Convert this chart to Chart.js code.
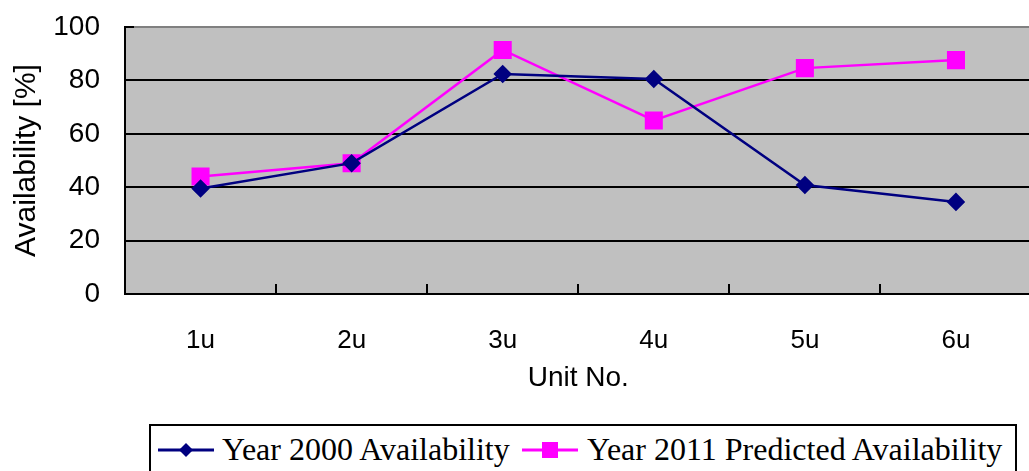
<!DOCTYPE html>
<html>
<head>
<meta charset="utf-8">
<script src="https://cdn.jsdelivr.net/npm/chart.js@4"></script>
<style>
  html, body { margin: 0; padding: 0; background: #fff; overflow: hidden; }
  #wrap { position: relative; width: 1045px; height: 471px; }
  #box { position: absolute; left: 0; top: 0; width: 1045px; height: 420px; }
  #legend { position: absolute; left: 149px; top: 424px; width: 864px; height: 60px;
            border: 2px solid #000; font-family: "Liberation Serif", serif; font-size: 32px; }
  .item { position: absolute; top: 8px; line-height: 31px; white-space: nowrap; }
  .sym { position: absolute; top: 15px; }
  .sym svg { display: block; }
</style>
</head>
<body>
<div id="wrap">
  <div id="box"><canvas id="chart"></canvas></div>
  <div id="legend"></div>
</div>
<script>
// datos
const units = ['1u', '2u', '3u', '4u', '5u', '6u'];
const avail2000 = [39.5, 49, 82.4, 80.5, 40.8, 34.5];
const avail2011 = [44, 49, 91.4, 65, 84.6, 87.6];
const yTicks = [0, 20, 40, 60, 80, 100];

const seriesNames = ['Year 2000 Availability', 'Year 2011 Predicted Availability'];
const navy = '#000080';
const magenta = '#FF00FF';

// fondo gris y marcas hacia dentro
const plotDeco = {
    id: 'plotDeco',
    beforeDraw(chart) {
        const a = chart.chartArea;
        const ctx = chart.ctx;
        ctx.save();
        ctx.fillStyle = '#C0C0C0';
        ctx.fillRect(a.left, a.top, a.right - a.left, a.bottom - a.top);
        ctx.restore();
    },
    beforeDatasetsDraw(chart) {
        const a = chart.chartArea;
        const ctx = chart.ctx;
        const x = chart.scales.x;
        const y = chart.scales.y;
        ctx.save();
        ctx.strokeStyle = '#000';
        ctx.lineWidth = 2;
        ctx.beginPath();
        for (let i = 0; i < units.length - 1; i++) {
            const px = Math.round((x.getPixelForValue(i) + x.getPixelForValue(i + 1)) / 2);
            ctx.moveTo(px, a.bottom);
            ctx.lineTo(px, a.bottom - 10);
        }
        yTicks.forEach(v => {
            const py = Math.round(y.getPixelForValue(v));
            ctx.moveTo(a.left, py);
            ctx.lineTo(a.left + 9, py);
        });
        ctx.stroke();
        ctx.restore();
    }
};

new Chart(document.getElementById('chart').getContext('2d'), {
    type: 'line',
    data: {
        labels: units,
        datasets: [{
            label: seriesNames[0],
            data: avail2000,
            borderColor: navy,
            backgroundColor: navy,
            borderWidth: 2.5,
            pointStyle: 'rectRot',
            pointRadius: 7.5,
            pointHoverRadius: 7.5,
            tension: 0
        }, {
            label: seriesNames[1],
            data: avail2011,
            borderColor: magenta,
            backgroundColor: magenta,
            borderWidth: 2.5,
            pointStyle: 'rect',
            pointRadius: 11,
            pointHoverRadius: 11,
            tension: 0
        }]
    },
    options: {
        responsive: true,
        maintainAspectRatio: false,
        animation: false,
        layout: { padding: { top: 27, left: 0, right: 0, bottom: 0 } },
        plugins: {
            legend: { display: false },
            tooltip: { enabled: false }
        },
        scales: {
            x: {
                offset: true,
                grid: { display: false, drawTicks: false, tickLength: 0 },
                border: { display: true, color: '#000', width: 2 },
                ticks: {
                    color: '#000',
                    padding: 31,
                    font: { family: 'Liberation Sans', size: 26 }
                },
                title: {
                    display: true,
                    text: 'Unit No.',
                    color: '#000',
                    padding: { top: 25, bottom: 25 },
                    font: { family: 'Liberation Sans', size: 28 }
                },
                afterFit(scale) {
                    scale.height = 126;
                    scale.paddingLeft = 0;
                    scale.paddingRight = 0;
                }
            },
            y: {
                min: 0,
                max: 100,
                afterBuildTicks(scale) { scale.ticks = yTicks.map(v => ({ value: v })); },
                grid: {
                    color: ctx => (ctx.tick && ctx.tick.value === 100) ? '#808080' : '#000',
                    lineWidth: 2,
                    drawTicks: false,
                    tickLength: 0
                },
                border: { display: true, color: '#000', width: 2 },
                ticks: {
                    color: '#000',
                    padding: 25,
                    font: { family: 'Liberation Sans', size: 28 }
                },
                title: {
                    display: true,
                    text: 'Availability [%]',
                    color: '#000',
                    padding: { top: 9, bottom: 0 },
                    font: { family: 'Liberation Sans', size: 30 }
                },
                afterFit(scale) {
                    scale.width = 125;
                    scale.paddingTop = 0;
                    scale.paddingBottom = 0;
                }
            }
        }
    },
    plugins: [plotDeco]
});

// leyenda en html con simbolo de linea y marcador
function legendSymbol(color, shape) {
    const mark = shape === 'diamond'
        ? `<polygon points="28,2 35,9 28,16 21,9" fill="${color}"/>`
        : `<rect x="20" y="1" width="16" height="16" fill="${color}"/>`;
    return `<svg width="56" height="18"><line x1="0" y1="9" x2="56" y2="9" stroke="${color}" stroke-width="3"/>${mark}</svg>`;
}
const legend = document.getElementById('legend');
legend.innerHTML =
    `<span class="sym" style="left:7px">${legendSymbol(navy, 'diamond')}</span>` +
    `<span class="item" style="left:71px">${seriesNames[0]}</span>` +
    `<span class="sym" style="left:371px">${legendSymbol(magenta, 'square')}</span>` +
    `<span class="item" style="left:436px">${seriesNames[1]}</span>`;
</script>
</body>
</html>
